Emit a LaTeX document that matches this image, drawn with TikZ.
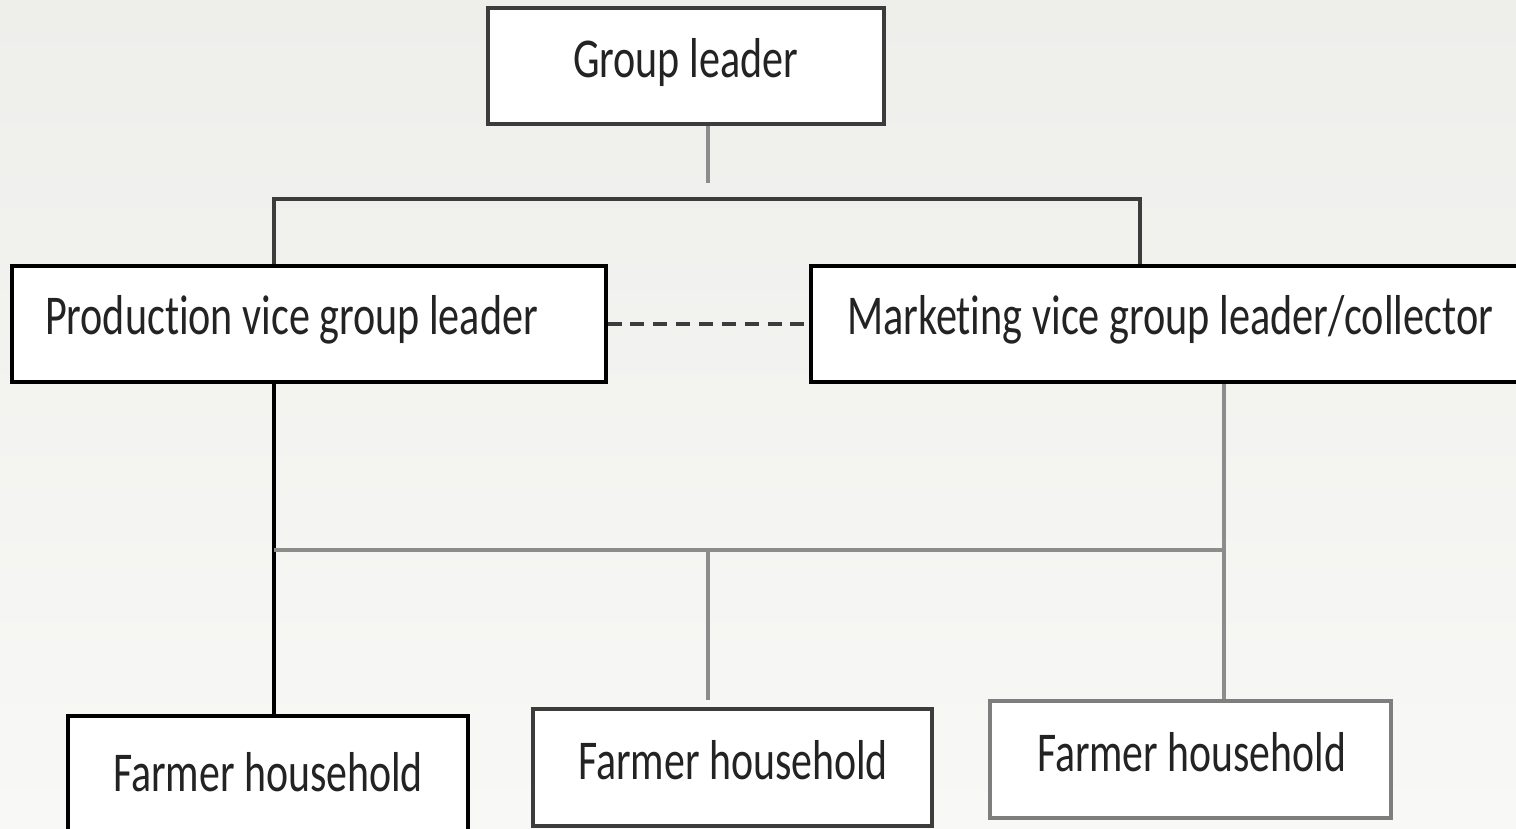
\documentclass[tikz,border=0pt]{standalone}
\usepackage{fontspec}
\usepackage{graphicx}
\setmainfont{Carlito}[Ligatures=NoCommon]
\usetikzlibrary{calc}
\definecolor{bgtop}{RGB}{238,238,235}
\definecolor{bgbot}{RGB}{248,248,246}
\definecolor{linedark}{RGB}{60,60,60}
\definecolor{linegray}{RGB}{140,140,140}
\definecolor{txt}{RGB}{35,35,35}
\newcommand{\fitw}[2]{\resizebox{#1}{\height}{#2}}
\tikzset{
  box/.style={draw=linedark, line width=0.9pt, fill=white, inner sep=0pt},
  lbl/.style={inner sep=0pt, text=txt, font=\fontsize{16}{18}\selectfont, anchor=center},
  conn/.style={draw=linedark, line width=0.9pt},
  conng/.style={draw=linegray, line width=0.9pt},
  dashconn/.style={draw=linedark, line width=0.9pt, dashed, dash pattern=on 4pt off 2.5pt}
}
\begin{document}
\begin{tikzpicture}
\useasboundingbox (0,0) rectangle (15.16,-8.29);
\shade[top color=bgtop, bottom color=bgbot] (0,0) rectangle (15.16,-8.29);
\clip (0,0) rectangle (15.16,-8.29);
% boxes
\node[box, minimum width=3.96cm, minimum height=1.16cm] (gl) at (6.86,-0.66) {};
\node[box, draw=black, minimum width=5.94cm, minimum height=1.16cm] (prod) at (3.09,-3.24) {};
\node[box, draw=black, minimum width=7.30cm, minimum height=1.16cm] (mkt) at (11.76,-3.24) {};
\node[box, draw=black, minimum width=4.00cm, minimum height=1.40cm] (f1) at (2.68,-7.86) {};
\node[box, minimum width=3.99cm, minimum height=1.17cm] (f2) at (7.325,-7.675) {};
\node[box, draw=linegray!90!black, minimum width=4.01cm, minimum height=1.17cm] (f3) at (11.905,-7.595) {};
% labels
\node[lbl] (glt) at (6.855,-0.63) {\fitw{2.25cm}{Group leader}};
\node[lbl] (prodt) at (2.915,-3.20) {\fitw{4.93cm}{Production vice group leader}};
\node[lbl] (mktt) at (11.70,-3.20) {\fitw{6.46cm}{Marketing vice group leader/collector}};
\node[lbl] (f1t) at (2.68,-7.72) {\fitw{3.10cm}{Farmer household}};
\node[lbl] (f2t) at (7.33,-7.60) {\fitw{3.10cm}{Farmer household}};
\node[lbl] (f3t) at (11.915,-7.52) {\fitw{3.09cm}{Farmer household}};
% connector coordinates
\coordinate (topend) at (7.08,-1.83);
\coordinate (hl) at (2.74,-1.99);
\coordinate (hr) at (11.40,-1.99);
\coordinate (bl) at (2.74,-5.50);
\coordinate (br) at (12.24,-5.50);
\coordinate (bmid) at (7.08,-5.50);
\coordinate (bmidend) at (7.08,-7.00);
% connectors
\draw[conng] (topend |- gl.south) -- (topend);
\draw[conn] (hl |- prod.north) -- (hl) -- (hr) -- (hr |- mkt.north);
\draw[dashconn] (prod.east) -- (mkt.west);
\draw[conn, draw=black] (bl |- prod.south) -- (bl |- f1.north);
\draw[conng] (br |- mkt.south) -- (br |- f3.north);
\draw[conng] (bl) -- (br);
\draw[conng] (bmid) -- (bmidend);
\end{tikzpicture}
\end{document}
